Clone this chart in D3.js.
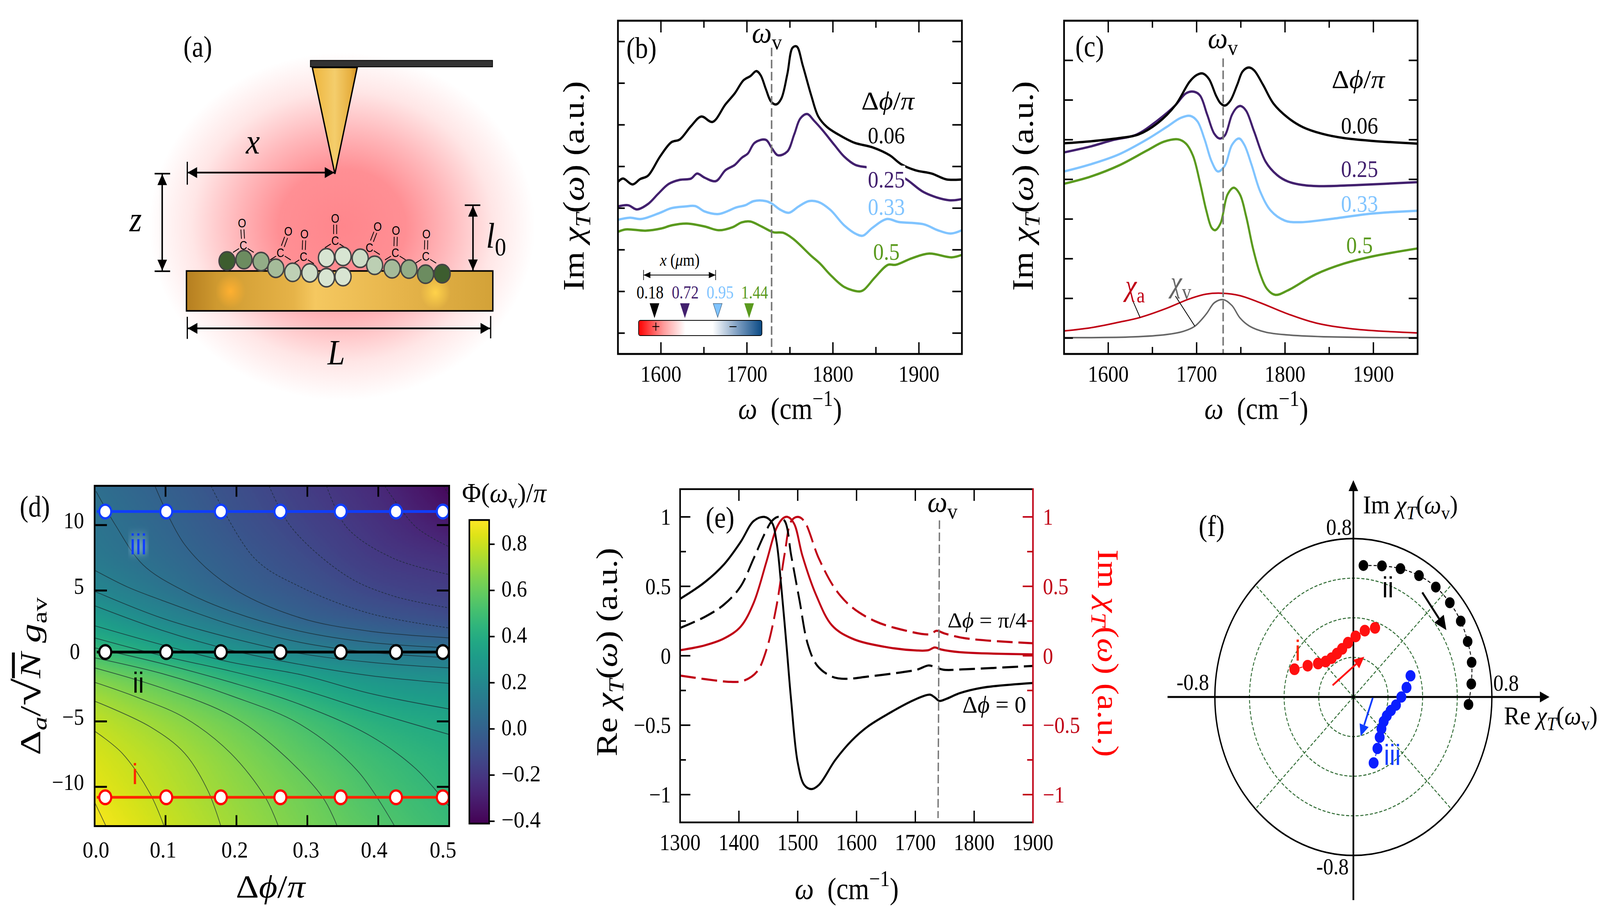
<!DOCTYPE html>
<html>
<head>
<meta charset="utf-8">
<script src="https://cdn.jsdelivr.net/npm/d3@7"></script>
<style>
  html, body { margin: 0; background: #fff; overflow: hidden; }
  text { white-space: pre; }
</style>
</head>
<body>
<div id="wrapper"></div>
<script>
// ---- data ----
// (b) measured spectra, [omega, value in tick units]
const bBlack = [[1550,3.63],[1556,3.71],[1567,3.57],[1576,3.70],[1585,3.78],[1599,4.24],[1612,4.58],[1622,4.65],[1635,4.97],[1647,5.20],[1660,5.07],[1675,5.49],[1686,5.76],[1696,6.07],[1704,6.17],[1711,6.29],[1716,6.19],[1722,5.86],[1728,5.56],[1734,5.49],[1740,5.63],[1747,6.22],[1753,6.85],[1758,6.88],[1765,6.42],[1775,5.69],[1783,5.20],[1793,4.95],[1807,4.76],[1825,4.57],[1846,4.46],[1866,4.27],[1879,4.06],[1896,3.91],[1915,3.83],[1932,3.69],[1950,3.69]];
const bPurple = [[1550,3.04],[1562,3.07],[1572,2.97],[1585,3.10],[1597,3.35],[1609,3.58],[1622,3.68],[1635,3.71],[1642,3.83],[1651,3.73],[1664,3.65],[1675,3.91],[1686,4.04],[1694,4.21],[1701,4.31],[1709,4.57],[1722,4.64],[1729,4.44],[1736,4.27],[1747,4.36],[1755,4.77],[1762,5.15],[1770,5.26],[1778,5.10],[1788,4.87],[1802,4.51],[1813,4.24],[1826,4.04],[1840,3.98],[1862,3.90],[1884,3.71],[1906,3.38],[1935,3.19],[1950,3.22]];
const bBlue = [[1550,2.72],[1564,2.77],[1577,2.74],[1599,2.89],[1612,3.00],[1628,3.04],[1640,3.05],[1651,2.92],[1667,2.86],[1688,3.02],[1698,3.07],[1708,3.17],[1722,3.17],[1729,3.11],[1739,2.96],[1749,2.89],[1760,3.04],[1772,3.17],[1783,3.15],[1797,2.96],[1813,2.59],[1828,2.37],[1835,2.34],[1846,2.53],[1863,2.74],[1876,2.67],[1906,2.61],[1922,2.47],[1937,2.39],[1950,2.47]];
const bGreen = [[1550,2.43],[1559,2.49],[1582,2.46],[1600,2.51],[1613,2.59],[1630,2.63],[1651,2.56],[1667,2.47],[1683,2.54],[1694,2.66],[1704,2.68],[1717,2.56],[1731,2.42],[1742,2.41],[1754,2.26],[1774,1.87],[1785,1.67],[1797,1.40],[1813,1.11],[1831,1.00],[1836,1.04],[1849,1.34],[1864,1.64],[1873,1.64],[1892,1.80],[1912,1.91],[1938,1.82],[1950,1.88]];
const bPhase = ["0.06","0.25","0.33","0.5"];
const bPositions = ["0.18","0.72","0.95","1.44"];

// (c) model spectra
const cBlack = [[1550,4.91],[1580,4.96],[1612,5.04],[1634,5.13],[1656,5.42],[1676,5.87],[1692,6.46],[1700,6.63],[1707,6.67],[1714,6.53],[1722,6.11],[1727,5.92],[1732,5.86],[1738,5.98],[1746,6.39],[1752,6.72],[1759,6.82],[1765,6.75],[1775,6.39],[1787,5.91],[1803,5.56],[1820,5.32],[1842,5.15],[1867,5.04],[1899,4.97],[1950,4.90]];
const cPurple = [[1550,4.68],[1580,4.83],[1605,4.99],[1632,5.13],[1656,5.49],[1676,5.87],[1688,6.17],[1697,6.21],[1704,6.11],[1712,5.63],[1720,5.15],[1726,5.03],[1732,5.11],[1740,5.63],[1746,5.82],[1750,5.85],[1756,5.73],[1765,5.21],[1778,4.45],[1791,4.11],[1803,3.95],[1820,3.86],[1842,3.83],[1883,3.86],[1950,3.93]];
const cBlue = [[1550,4.20],[1580,4.38],[1612,4.63],[1644,5.01],[1666,5.32],[1682,5.55],[1693,5.60],[1701,5.46],[1709,5.01],[1717,4.45],[1724,4.20],[1732,4.35],[1740,4.87],[1748,5.03],[1754,4.87],[1762,4.38],[1772,3.69],[1784,3.21],[1800,2.96],[1816,2.92],[1851,3.00],[1899,3.14],[1950,3.21]];
const cGreen = [[1550,3.89],[1580,4.07],[1612,4.35],[1644,4.73],[1663,4.95],[1679,5.01],[1688,4.90],[1696,4.59],[1704,3.90],[1711,3.21],[1717,2.78],[1721,2.72],[1727,2.89],[1735,3.62],[1742,3.79],[1749,3.62],[1756,3.07],[1764,2.24],[1772,1.61],[1780,1.23],[1789,1.09],[1803,1.20],[1835,1.61],[1867,1.88],[1899,2.06],[1950,2.26]];
const cChiA = [[1550,0.18],[1580,0.26],[1612,0.40],[1636,0.52],[1666,0.75],[1692,0.99],[1711,1.11],[1730,1.13],[1749,1.07],[1772,0.89],[1803,0.61],[1835,0.38],[1877,0.23],[1950,0.13]];
const cChiV = [[1550,0.01],[1628,0.03],[1666,0.09],[1685,0.17],[1698,0.30],[1711,0.61],[1720,0.89],[1730,0.97],[1740,0.82],[1749,0.51],[1760,0.30],[1778,0.15],[1803,0.08],[1851,0.03],[1950,0.01]];

// (d) phase map Phi(omega_v)/pi, one row per detuning, one column per phase difference
const dPhiGrid = [0, 0.1, 0.2, 0.3, 0.4, 0.5];
const dDetGrid = [13, 10, 7.5, 5, 3, 1.5, 0, -1.5, -3, -5, -7.5, -10, -13];
const dMap = [
  [0.063,-0.013,-0.096,-0.177,-0.259,-0.385],
  [0.095, 0.017,-0.069,-0.146,-0.222,-0.313],
  [0.123, 0.047,-0.035,-0.111,-0.185,-0.227],
  [0.198, 0.101, 0.005,-0.064,-0.131,-0.167],
  [0.303, 0.191, 0.088,-0.005,-0.059,-0.103],
  [0.391, 0.290, 0.185, 0.091, 0.027,-0.010],
  [0.520, 0.397, 0.293, 0.210, 0.153, 0.120],
  [0.636, 0.537, 0.418, 0.329, 0.262, 0.233],
  [0.712, 0.619, 0.520, 0.416, 0.333, 0.297],
  [0.778, 0.693, 0.603, 0.507, 0.419, 0.367],
  [0.822, 0.745, 0.657, 0.565, 0.481, 0.419],
  [0.852, 0.770, 0.686, 0.605, 0.517, 0.448],
  [0.893, 0.800, 0.715, 0.633, 0.553, 0.480]
];
const dContoursSolid = [
  [[0,-11.17],[0.016,-13]],
  [[0,-5.74],[0.039,-7.44],[0.078,-10.49],[0.098,-13]],
  [[0,-3.45],[0.078,-5.4],[0.127,-7.44],[0.16,-10.32],[0.178,-13]],
  [[0,-2.01],[0.062,-3.2],[0.127,-4.72],[0.192,-7.44],[0.241,-10.83],[0.259,-13]],
  [[0,-0.91],[0.094,-2.43],[0.192,-4.55],[0.257,-7.1],[0.322,-10.83],[0.342,-13]],
  [[0,-0.14],[0.094,-1.33],[0.192,-3.03],[0.29,-5.23],[0.371,-8.79],[0.423,-13]],
  [[0,0.62],[0.094,-0.57],[0.192,-2.01],[0.29,-3.71],[0.388,-6.08],[0.453,-8.62],[0.5,-11.51]],
  [[0,1.38],[0.094,0.03],[0.192,-1.16],[0.29,-2.52],[0.388,-4.21],[0.5,-6.0]],
  [[0,2.31],[0.094,0.87],[0.192,-0.48],[0.29,-1.42],[0.388,-2.86],[0.5,-4.05]],
  [[0,3.84],[0.094,1.98],[0.192,0.45],[0.29,-0.65],[0.388,-1.5],[0.5,-2.1]],
  [[0,4.94],[0.094,2.91],[0.192,1.38],[0.29,0.19],[0.388,-0.48],[0.5,-0.91]],
  [[0,6.55],[0.046,5.28],[0.094,4.27],[0.192,2.4],[0.29,1.04],[0.388,0.28],[0.5,-0.14]],
  [[0.002,12.58],[0.029,10.03],[0.068,6.98],[0.127,4.94],[0.192,3.42],[0.29,1.89],[0.388,1.04],[0.5,0.62]],
  [[0.085,13],[0.127,8.51],[0.192,5.28],[0.29,2.91],[0.388,1.89],[0.5,1.38]]
];
const dContoursDashed = [
  [[0.164,13],[0.225,7.49],[0.29,5.28],[0.388,3.25],[0.5,2.14]],
  [[0.246,13],[0.277,9.86],[0.355,6.13],[0.42,4.6],[0.5,3.67]],
  [[0.327,13],[0.355,9.86],[0.42,7.49],[0.5,6.22]],
  [[0.409,13],[0.453,9.86],[0.5,8.34]],
  [[0.492,13],[0.5,12.24]]
];
const dPhases = [0.015, 0.101, 0.178, 0.262, 0.347, 0.425, 0.491];
const dDetI = -10.8, dDetII = 0.3, dDetIII = 11.04;
const dXTickLabels = ["0.0","0.1","0.2","0.3","0.4","0.5"];
const dYTicks = [10, 5, 0, -5, -10];
const cbTicks = [0.8, 0.6, 0.4, 0.2, 0, -0.2, -0.4];
const cbTickLabels = ["0.8","0.6","0.4","0.2","0.0","−0.2","−0.4"];

// (e) spectra at two phase differences
const eReSolid = [[1300,0.41],[1342,0.53],[1375,0.66],[1403,0.82],[1425,0.97],[1443,1.0],[1456,0.96],[1464,0.82],[1472,0.50],[1481,0.07],[1489,-0.33],[1500,-0.77],[1511,-0.93],[1523,-0.96],[1536,-0.93],[1564,-0.75],[1592,-0.61],[1619,-0.51],[1653,-0.42],[1692,-0.33],[1714,-0.29],[1725,-0.28],[1733,-0.30],[1741,-0.325],[1753,-0.31],[1775,-0.27],[1814,-0.23],[1900,-0.196]];
const eReDash = [[1300,0.20],[1342,0.28],[1375,0.37],[1403,0.50],[1425,0.70],[1444,0.88],[1456,0.97],[1467,1.0],[1478,0.97],[1489,0.72],[1503,0.40],[1517,0.085],[1533,-0.07],[1558,-0.15],[1581,-0.166],[1619,-0.15],[1675,-0.12],[1703,-0.10],[1722,-0.07],[1733,-0.08],[1747,-0.10],[1786,-0.097],[1900,-0.073]];
const eImSolid = [[1300,0.04],[1342,0.075],[1375,0.125],[1403,0.21],[1425,0.38],[1447,0.68],[1464,0.92],[1475,0.99],[1483,1.0],[1494,0.95],[1508,0.72],[1531,0.44],[1558,0.22],[1592,0.125],[1647,0.065],[1703,0.038],[1722,0.04],[1733,0.06],[1744,0.045],[1775,0.026],[1900,0.01]];
const eImDash = [[1300,-0.143],[1342,-0.168],[1386,-0.188],[1408,-0.18],[1431,-0.113],[1447,0.046],[1464,0.36],[1478,0.74],[1489,0.97],[1500,1.0],[1511,0.97],[1536,0.70],[1564,0.48],[1592,0.35],[1631,0.25],[1675,0.19],[1725,0.155],[1736,0.18],[1750,0.16],[1786,0.125],[1900,0.09]];
const eXTicks = [1300,1400,1500,1600,1700,1800,1900];
const eYTicks = [1, 0.5, 0, -0.5, -1];
const eYTickLabels = ["1","0.5","0","−0.5","−1"];

// (f) complex plane trajectories [Re, Im]
const fI = [[-0.340,0.140],[-0.264,0.158],[-0.204,0.169],[-0.160,0.179],[-0.126,0.196],[-0.095,0.219],[-0.065,0.243],[-0.031,0.274],[0.013,0.306],[0.066,0.335],[0.125,0.349]];
const fII = [[0.058,0.664],[0.165,0.662],[0.272,0.648],[0.379,0.613],[0.476,0.555],[0.557,0.476],[0.620,0.383],[0.660,0.280],[0.683,0.175],[0.681,0.066],[0.665,-0.038]];
const fIII = [[0.330,0.107],[0.307,0.048],[0.277,0],[0.246,-0.041],[0.217,-0.068],[0.193,-0.095],[0.175,-0.124],[0.162,-0.160],[0.152,-0.203],[0.139,-0.260],[0.117,-0.333]];
const fRings = [0.2, 0.4, 0.6];

const black = "#000", purple = "#42206e", lightBlue = "#80c4ff", green = "#5a9a1e";
const darkRed = "#c00015", greyDash = "#777";
const serif = "'Liberation Serif', serif", sans = "'Liberation Sans', sans-serif";

// the browser window can come out narrower than asked, so the figure fills whatever it gets
const svg = d3.select("#wrapper").append("svg")
  .attr("viewBox", "0 0 4684 2319")
  .attr("preserveAspectRatio", "none")
  .style("width", "100vw").style("height", "100vh")
  .style("display", "block");
svg.append("rect").attr("width", 4684).attr("height", 2319).attr("fill", "#fff");
const defs = svg.append("defs");

// text with italics, sub and superscripts. parts: "plain" or [string, flags]
function label(x, y, parts, o = {}) {
  const size = o.size || 60;
  const t = svg.append("text")
    .attr("font-family", o.family || serif)
    .attr("font-size", size)
    .attr("fill", o.fill || "#000")
    .attr("text-anchor", o.anchor || "middle");
  let shift = 0;
  [].concat(typeof parts === "string" ? [parts] : parts).forEach(p => {
    const s = Array.isArray(p) ? p[0] : p;
    const f = (Array.isArray(p) && p[1]) || "";
    const target = f.includes("_") ? 0.22 * size : f.includes("^") ? -0.42 * size : 0;
    const span = t.append("tspan").text(s).attr("dy", target - shift);
    shift = target;
    if (f.includes("_") || f.includes("^")) span.attr("font-size", size * 0.72);
    if (f.includes("L")) span.attr("font-size", size * 1.3);
    if (f.includes("i")) span.attr("font-style", "italic");
    if (f.includes("o")) span.attr("text-decoration", "overline");
  });
  const sx = o.w ? o.w / t.node().getComputedTextLength() : 1;
  t.attr("transform", `translate(${x},${y}) rotate(${o.rot || 0}) scale(${sx},1)`);
  return t;
}

function hline(x1, x2, y, color, w) {
  svg.append("line").attr("x1", x1).attr("x2", x2).attr("y1", y).attr("y2", y)
    .attr("stroke", color).attr("stroke-width", w);
}
function vline(x, y1, y2, color, w) {
  svg.append("line").attr("x1", x).attr("x2", x).attr("y1", y1).attr("y2", y2)
    .attr("stroke", color).attr("stroke-width", w);
}

function arrow(x1, y1, x2, y2, color, w, len, half) {
  const a = Math.atan2(y2 - y1, x2 - x1);
  const bx = x2 - len * Math.cos(a), by = y2 - len * Math.sin(a);
  svg.append("line").attr("x1", x1).attr("y1", y1).attr("x2", bx).attr("y2", by)
    .attr("stroke", color).attr("stroke-width", w);
  const nx = -Math.sin(a) * half, ny = Math.cos(a) * half;
  svg.append("path")
    .attr("d", `M${x2},${y2}L${bx + nx},${by + ny}L${bx - nx},${by - ny}Z`)
    .attr("fill", color);
}

function curve(x, y, pts, color, w, dash) {
  const line = d3.line().x(d => x(d[0])).y(d => y(d[1])).curve(d3.curveCatmullRom.alpha(0.5));
  return svg.append("path").attr("d", line(pts)).attr("fill", "none")
    .attr("stroke", color).attr("stroke-width", w)
    .attr("stroke-dasharray", dash || null);
}

function spectrumAxes(x, y, yTicks, lenL, lenR) {
  const [x0, x1] = x.range(), [y0, y1] = y.range();
  d3.range(1600, 1950, 50).forEach(v => {
    const len = v % 100 === 0 ? 30 : 18;
    vline(x(v), y0, y0 - len, black, 4);
    vline(x(v), y1, y1 + len, black, 4);
  });
  yTicks.forEach(v => {
    hline(x0, x0 + lenL, y(v), black, 4);
    hline(x1, x1 - lenR, y(v), black, 4);
  });
  svg.append("rect").attr("x", x0).attr("y", y1).attr("width", x1 - x0).attr("height", y0 - y1)
    .attr("fill", "none").attr("stroke", black).attr("stroke-width", 5);
  [1600, 1700, 1800, 1900].forEach(v => label(x(v), 977, String(v), { size: 60 }));
}

const chiLabel = [["Im "], ["χ", "i"], ["T", "_i"], ["("], ["ω", "i"], [") (a.u.)"]];
const cmLabel = [["ω", "i"], ["  (cm"], ["−1", "^"], [")"]];
const phaseLabel = [["Δ"], ["ϕ", "i"], ["/"], ["π", "i"]];
const omegaV = [["ω", "i"], ["v", "_"]];

// ---- (a) schematic, drawn in its own sketch coordinates ----
const ax = d3.scaleLinear([0, 1568], [400, 1650]);
const ay = d3.scaleLinear([0, 1565], [0, 1080]);

const glow = defs.append("radialGradient").attr("id", "glow");
[[0,"#ff868c"],[0.33,"#ff8f94"],[0.55,"#ffb8bb"],[0.78,"#ffe6e6"],[1,"#ffffff"]].forEach(s =>
  glow.append("stop").attr("offset", s[0]).attr("stop-color", s[1]));
svg.append("ellipse").attr("cx", ax(755)).attr("cy", ay(840))
  .attr("rx", 565).attr("ry", 445).attr("fill", "url(#glow)");

const tipGrad = defs.append("linearGradient").attr("id", "tipGrad");
[[0,"#eeb53c"],[0.5,"#f4cd6c"],[0.85,"#e7b040"],[1,"#d08f22"]].forEach(s =>
  tipGrad.append("stop").attr("offset", s[0]).attr("stop-color", s[1]));
const goldGrad = defs.append("linearGradient").attr("id", "goldGrad");
[[0,"#b57e20"],[0.1,"#cf9a30"],[0.35,"#e6b348"],[0.42,"#f5c860"],[0.7,"#e6b44a"],[1,"#d3a238"]].forEach(s =>
  goldGrad.append("stop").attr("offset", s[0]).attr("stop-color", s[1]));

svg.append("path")
  .attr("d", `M${ax(645)},${ay(250)}L${ax(810)},${ay(250)}L${ax(728)},${ay(645)}Z`)
  .attr("fill", "url(#tipGrad)").attr("stroke", black).attr("stroke-width", 4);
svg.append("rect").attr("x", ax(638)).attr("y", ay(224)).attr("width", ax(1307) - ax(638)).attr("height", ay(248) - ay(224))
  .attr("fill", "#333").attr("stroke", black).attr("stroke-width", 2);

svg.append("rect").attr("x", ax(183)).attr("y", ay(1005)).attr("width", ax(1308) - ax(183)).attr("height", ay(1153) - ay(1005))
  .attr("fill", "url(#goldGrad)").attr("stroke", black).attr("stroke-width", 4);
[[345, 1080, "#ffb030"], [1097, 1085, "#ffd24a"]].forEach((h, i) => {
  const g = defs.append("radialGradient").attr("id", "hot" + i);
  g.append("stop").attr("offset", 0).attr("stop-color", h[2]).attr("stop-opacity", 1);
  g.append("stop").attr("offset", 1).attr("stop-color", h[2]).attr("stop-opacity", 0);
  svg.append("circle").attr("cx", ax(h[0])).attr("cy", ay(h[1])).attr("r", 44).attr("fill", `url(#hot${i})`);
});

const carbonyls = [[392,910,387,828],[528,938,557,858],[613,952,616,868],[729,893,729,810],[855,918,885,840],[950,938,952,855],[1062,950,1064,868]];
carbonyls.forEach(c => {
  const [cx, cy, ox, oy] = c;
  const a = Math.atan2(oy - cy, ox - cx), nx = -Math.sin(a) * 4.5, ny = Math.cos(a) * 4.5;
  const dx = ax(ox) - ax(cx), dy = ay(oy) - ay(cy);
  [-1, 1].forEach(s => svg.append("line")
    .attr("x1", ax(cx) + dx * 0.3 + s * nx).attr("y1", ay(cy) + dy * 0.3 + s * ny)
    .attr("x2", ax(cx) + dx * 0.72 + s * nx).attr("y2", ay(cy) + dy * 0.72 + s * ny)
    .attr("stroke", black).attr("stroke-width", 2.2));
  [-1, 1].forEach(s => svg.append("line")
    .attr("x1", ax(cx + s * 16)).attr("y1", ay(cy + 12))
    .attr("x2", ax(cx + s * 38)).attr("y2", ay(cy + 26))
    .attr("stroke", black).attr("stroke-width", 2.2));
  label(ax(cx), ay(cy) + 11, "C", { size: 31, family: sans });
  label(ax(ox), ay(oy) + 11, "O", { size: 31, family: sans });
});

const beads = [[332,968,"#3d5d2f"],[394,963,"#6c8c60"],[457,970,"#93ad87"],[511,995,"#a5bc9a"],[573,1010,"#bed0b5"],[636,1012,"#cfdec8"],[697,956,"#d8e5d2"],[758,951,"#d8e5d2"],[697,1030,"#d8e5d2"],[758,1026,"#d8e5d2"],[821,958,"#cddcc6"],[874,984,"#bccfb3"],[938,997,"#a5bb9a"],[1000,998,"#93ad87"],[1061,1017,"#6c8c60"],[1122,1015,"#3d5d2f"]];
beads.forEach(b => svg.append("circle").attr("cx", ax(b[0])).attr("cy", ay(b[1])).attr("r", 23.5)
  .attr("fill", b[2]).attr("stroke", "#444").attr("stroke-width", 4));

// dimension arrows
function dimension(x1, y1, x2, y2) {
  arrow(x1, y1, x2, y2, black, 4, 28, 14);
  arrow(x2, y2, x1, y1, black, 4, 28, 14);
}
dimension(ax(187), ay(640), ax(726), ay(640));
vline(ax(186), ay(600), ay(685), black, 3.5);
dimension(ax(94), ay(646), ax(94), ay(1004));
hline(ax(66), ax(123), ay(644), black, 4);
hline(ax(66), ax(123), ay(1006), black, 4);
dimension(ax(1235), ay(763), ax(1235), ay(1003));
hline(ax(1205), ax(1262), ay(761), black, 4);
dimension(ax(188), ay(1218), ax(1298), ay(1218));
vline(ax(186), ay(1175), ay(1257), black, 3.5);
vline(ax(1300), ay(1172), ay(1255), black, 3.5);

label(579, 145, "(a)", { size: 76 });
label(ax(427), ay(570), [["x", "i"]], { size: 92 });
label(397, 592, [["z", "i"]], { size: 92 });
label(ax(1320), ay(918), [["l", "i"], ["0", "_"]], { size: 92 });
label(ax(733), ay(1352), [["L", "i"]], { size: 92 });

// ---- (b) ----
const bX = d3.scaleLinear([1550, 1950], [1809, 2816]);
const bY = d3.scaleLinear([-0.5, 7.5], [906, 53]);
curve(bX, bY, bGreen, green, 6);
curve(bX, bY, bBlue, lightBlue, 6);
curve(bX, bY, bPurple, purple, 6);
curve(bX, bY, bBlack, black, 6);
svg.append("line").attr("x1", bX(1728.7)).attr("x2", bX(1728.7)).attr("y1", 122).attr("y2", 906)
  .attr("stroke", greyDash).attr("stroke-width", 4.5).attr("stroke-dasharray", "22,9");
spectrumAxes(bX, bY, d3.range(0, 8), 20, 28);
// the 0.25 label sits in a white patch in the original
svg.append("rect").attr("x", 2537).attr("y", 424).attr("width", 113).attr("height", 62).attr("fill", "#fff");
label(1878, 148, "(b)", { size: 76 });
label(2245, 109, omegaV, { size: 76, w: 88 });
label(2313, 1072, cmLabel, { size: 78, w: 304 });
label(1708, 476, chiLabel, { size: 88, rot: -90, w: 537 });
label(2599, 280, phaseLabel, { size: 66, w: 155 });
[367, 480, 550, 665].forEach((yy, i) =>
  label(2595, yy, bPhase[i], { size: 62, fill: [black, purple, lightBlue, green][i] }));

// position legend inset
const cbar = defs.append("linearGradient").attr("id", "tipBar");
[[0,"#ff0000"],[0.2,"#ff9a9a"],[0.38,"#ffffff"],[0.6,"#ffffff"],[0.8,"#7f9fc2"],[1,"#0a4a85"]].forEach(s =>
  cbar.append("stop").attr("offset", s[0]).attr("stop-color", s[1]));
svg.append("rect").attr("x", 1869.5).attr("y", 820).attr("width", 361).attr("height", 39).attr("rx", 5)
  .attr("fill", "url(#tipBar)").attr("stroke", black).attr("stroke-width", 2);
label(1920, 851, "+", { size: 44 });
label(2146, 851, "−", { size: 44 });
[1916, 2005, 2101, 2193].forEach((xx, i) => {
  const c = [black, purple, lightBlue, green][i];
  svg.append("path").attr("d", `M${xx - 13},777L${xx + 13},777L${xx},812Z`)
    .attr("fill", c).attr("stroke", i === 2 ? "#4a6a88" : c).attr("stroke-width", 1.5);
  label([1903, 2006, 2108, 2209][i], 764, bPositions[i], { size: 46, fill: c, w: 79 });
});
label(1990, 680, [["x", "i"], [" ("], ["μ", "i"], ["m)"]], { size: 44 });
dimension2(1884, 2095, 704);
function dimension2(x1, x2, y) {
  arrow(x1, y, x2, y, black, 1.8, 20, 8);
  arrow(x2, y, x1, y, black, 1.8, 20, 8);
  vline(x1, y - 13, y + 13, black, 1.8);
  vline(x2, y - 13, y + 13, black, 1.8);
}

// ---- (c) ----
const cX = d3.scaleLinear([1550, 1950], [3115, 4150]);
const cY = d3.scaleLinear([-0.4, 8.0], [906, 53]);
curve(cX, cY, cChiA, darkRed, 4);
curve(cX, cY, cChiV, "#666", 4);
curve(cX, cY, cGreen, green, 6);
curve(cX, cY, cBlue, lightBlue, 6);
curve(cX, cY, cPurple, purple, 6);
curve(cX, cY, cBlack, black, 6);
svg.append("line").attr("x1", cX(1730)).attr("x2", cX(1730)).attr("y1", cY(7.05)).attr("y2", 906)
  .attr("stroke", greyDash).attr("stroke-width", 4.5).attr("stroke-dasharray", "22,9");
spectrumAxes(cX, cY, d3.range(0, 8), 26, 26);
// leaders from chi labels to their curves
[[1628, 0.93, 1636, 0.52], [1676, 1.06, 1698, 0.30]].forEach(l => {
  svg.append("line").attr("x1", cX(l[0])).attr("y1", cY(l[1])).attr("x2", cX(l[2])).attr("y2", cY(l[3]))
    .attr("stroke", black).attr("stroke-width", 2.2);
});
label(3190, 144, "(c)", { size: 76 });
label(3580, 123, omegaV, { size: 76, w: 88 });
label(3678, 1072, cmLabel, { size: 78, w: 304 });
label(3024, 476, chiLabel, { size: 88, rot: -90, w: 537 });
label(3976, 225, phaseLabel, { size: 66, w: 155 });
[342, 453, 542, 648].forEach((yy, i) =>
  label(3980, yy, bPhase[i], { size: 62, fill: [black, purple, lightBlue, green][i] }));
label(3323, 757, [["χ", "i"], ["a", "_"]], { size: 76, fill: darkRed });
label(3457, 748, [["χ", "i"], ["v", "_"]], { size: 76, fill: "#666" });

// ---- (d) ----
const dX = d3.scaleLinear([0, 0.5], [277, 1315]);
const dY = d3.scaleLinear([-13, 13], [2114.5, 1243.5]);
const viridis = d3.scaleSequential(d3.interpolateViridis).domain([-0.41, 0.905]);

// cubic resampling of the read grid, only to smooth the display
function hermite(xs, ys, x) {
  const dir = xs[1] > xs[0] ? 1 : -1;
  let i = 0;
  while (i < xs.length - 2 && dir * x > dir * xs[i + 1]) i++;
  const slope = k => {
    const a = Math.max(k - 1, 0), b = Math.min(k + 1, xs.length - 1);
    return (ys[b] - ys[a]) / (xs[b] - xs[a]);
  };
  const h = xs[i + 1] - xs[i], t = (x - xs[i]) / h;
  return (2*t*t*t - 3*t*t + 1) * ys[i] + (t*t*t - 2*t*t + t) * h * slope(i)
       + (-2*t*t*t + 3*t*t) * ys[i + 1] + (t*t*t - t*t) * h * slope(i + 1);
}
const nx = 260, ny = 218;
const fine = new Float64Array(nx * ny);
for (let j = 0; j < ny; j++) {
  const det = 13 - 26 * j / (ny - 1);
  const row = dPhiGrid.map((_, c) => hermite(dDetGrid, dMap.map(r => r[c]), det));
  for (let i = 0; i < nx; i++) fine[j * nx + i] = hermite(dPhiGrid, row, 0.5 * i / (nx - 1));
}
const cv = document.createElement("canvas");
cv.width = nx; cv.height = ny;
const ctx = cv.getContext("2d");
const img = ctx.createImageData(nx, ny);
fine.forEach((v, k) => {
  const c = d3.rgb(viridis(v));
  img.data.set([c.r, c.g, c.b, 255], k * 4);
});
ctx.putImageData(img, 0, 0);
svg.append("image").attr("href", cv.toDataURL())
  .attr("x", 277).attr("y", 1243.5).attr("width", 1038).attr("height", 871)
  .attr("preserveAspectRatio", "none");

dContoursSolid.forEach(c => curve(dX, dY, c, "#1a2a30", 2).attr("stroke-opacity", 0.7));
dContoursDashed.forEach(c => curve(dX, dY, c, "#1a2a30", 2, "6,4").attr("stroke-opacity", 0.7));

[0.1, 0.2, 0.3, 0.4].forEach(v => {
  vline(dX(v), 2114.5, 2114.5 - 28, black, 5);
  vline(dX(v), 1243.5, 1243.5 + 28, black, 5);
});
[10, 5, -5, -10].forEach(v => {
  hline(277, 277 + 36, dY(v), black, 5);
  hline(1315, 1315 - 36, dY(v), black, 5);
});

[[dDetIII, "#0f3dff", "#0f3dff"], [dDetII, black, black], [dDetI, "#ff2600", "#ff0000"]].forEach(r => {
  hline(dX(0.003), dX(0.497), dY(r[0]), r[1], 7);
  svg.selectAll(null).data(dPhases).join("circle")
    .attr("cx", d => dX(d)).attr("cy", dY(r[0])).attr("r", 17.5)
    .attr("fill", "#fff").attr("stroke", r[2]).attr("stroke-width", 6);
});
svg.append("rect").attr("x", 277).attr("y", 1243.5).attr("width", 1038).attr("height", 871)
  .attr("fill", "none").attr("stroke", black).attr("stroke-width", 5);

defs.append("filter").attr("id", "soft").append("feGaussianBlur").attr("stdDeviation", 9);
label(405, 1419, "iii", { size: 74, family: sans, fill: "#bfe0f0" }).attr("filter", "url(#soft)");
label(405, 1419, "iii", { size: 74, family: sans, fill: "#0f3dff" });
label(405, 1773, "ii", { size: 74, family: sans });
label(395, 2007, "i", { size: 74, family: sans, fill: "#ff2600" });
label(102, 1322, "(d)", { size: 76 });

[4, -7, -5, -4, -12, -18].forEach((shift, i) =>
  label(dX(i * 0.1) + shift, 2195, dXTickLabels[i], { size: 60, w: 78 }));
dYTicks.forEach(v =>
  label(v === 0 ? 234 : 246, dY(v) + 8, v < 0 ? "−" + Math.abs(v) : String(v), { size: 60, anchor: "end" }));
label(792, 2297, phaseLabel, { size: 82, w: 203 });
label(118, 1731, [["Δ"], ["a", "_i"], ["/"], ["√", "L"], ["N", "io"], [" "], ["g", "i"], ["av", "_"]], { size: 84, rot: -90, w: 404 });

// colorbar
const cbY = d3.scaleLinear([-0.41, 0.905], [2108, 1331]);
const cbGrad = defs.append("linearGradient").attr("id", "cbGrad")
  .attr("x1", 0).attr("y1", 1).attr("x2", 0).attr("y2", 0);
d3.range(0, 1.001, 0.05).forEach(t => cbGrad.append("stop").attr("offset", t)
  .attr("stop-color", d3.interpolateViridis(t)));
svg.append("rect").attr("x", 1374).attr("y", 1331).attr("width", 58).attr("height", 777)
  .attr("fill", "url(#cbGrad)").attr("stroke", black).attr("stroke-width", 4.5);
cbTicks.forEach((v, i) => {
  hline(1432, 1448, cbY(v), black, 4);
  label(1468, cbY(v) + 16, cbTickLabels[i], { size: 60, anchor: "start", w: i > 4 ? 115 : 75 });
});
label(1476, 1285, [["Φ"], ["("], ["ω", "i"], ["v", "_"], [")/"], ["π", "i"]], { size: 70, w: 247 });

// ---- (e) ----
const eX = d3.scaleLinear([1300, 1900], [1991, 3024]);
const eY = d3.scaleLinear([-1.2, 1.2], [2105, 1252]);
curve(eX, eY, eImDash, darkRed, 5.5, "46,17");
curve(eX, eY, eReDash, black, 5.5, "46,17");
curve(eX, eY, eImSolid, darkRed, 5.5);
curve(eX, eY, eReSolid, black, 5.5);
svg.append("line").attr("x1", eX(1741)).attr("y1", 1332).attr("x2", eX(1738.6)).attr("y2", 2094)
  .attr("stroke", greyDash).attr("stroke-width", 4).attr("stroke-dasharray", "22,9");
eXTicks.slice(1, -1).forEach(v => {
  vline(eX(v), 2105, 2075, black, 4);
  vline(eX(v), 1252, 1282, black, 4);
});
d3.range(-1, 1.01, 0.25).forEach(v => {
  const major = Math.abs(v * 2 - Math.round(v * 2)) < 1e-6;
  hline(1991, 1991 + (major ? 30 : 17), eY(v), black, 4);
  hline(3024, 3024 - (major ? 30 : 17), eY(v), darkRed, 4);
});
hline(1989, 3026, 1252, black, 4.5);
hline(1989, 3026, 2105, black, 4.5);
vline(1991, 1250, 2107, black, 4.5);
vline(3024, 1250, 2107, darkRed, 4.5);
eXTicks.forEach(v => label(eX(v), 2176, String(v), { size: 60 }));
eYTicks.forEach((v, i) => {
  label(1964, eY(v) + 20, eYTickLabels[i], { size: 60, anchor: "end" });
  label(3053, eY(v) + 20, eYTickLabels[i], { size: 60, anchor: "start", fill: darkRed });
});
label(2108, 1350, "(e)", { size: 76 });
label(2759, 1310, omegaV, { size: 76, w: 88 });
label(2479, 2301, cmLabel, { size: 78, w: 304 });
label(1806, 1669, [["Re "], ["χ", "i"], ["T", "_i"], ["("], ["ω", "i"], [") (a.u.)"]], { size: 88, rot: -90, w: 534 });
label(3215, 1672, chiLabel, { size: 88, rot: 90, w: 531, fill: "#ff0000" });
label(2890, 1606, [["Δ"], ["ϕ", "i"], [" = "], ["π"], ["/4"]], { size: 54, w: 232 });
label(2911, 1824, [["Δ"], ["ϕ", "i"], [" = 0"]], { size: 62, w: 187 });

// ---- (f) ----
const fX = d3.scaleLinear([-0.8, 0.8], [3962 - 405.5, 3962 + 405.5]);
const fY = d3.scaleLinear([-0.8, 0.8], [1784 + 405.5, 1784 - 405.5]);
const fR = d3.scaleLinear([0, 0.8], [0, 405.5]);
const ringGreen = "#2f6b33";
fRings.forEach(r => svg.append("circle").attr("cx", fX(0)).attr("cy", fY(0)).attr("r", fR(r))
  .attr("fill", "none").attr("stroke", ringGreen).attr("stroke-width", 2.6).attr("stroke-dasharray", "9,5"));
[45, 135, 225, 315].forEach(deg => {
  const a = deg * Math.PI / 180;
  svg.append("line").attr("x1", fX(0)).attr("y1", fY(0))
    .attr("x2", fX(0.8 * Math.cos(a))).attr("y2", fY(0.8 * Math.sin(a)))
    .attr("stroke", ringGreen).attr("stroke-width", 2.6).attr("stroke-dasharray", "9,5");
});
svg.append("circle").attr("cx", fX(0)).attr("cy", fY(0)).attr("r", fR(0.8))
  .attr("fill", "none").attr("stroke", black).attr("stroke-width", 4);
arrow(3418, fY(0), 4536, fY(0), black, 5, 28, 14);
arrow(fX(0), 2304, fX(0), 1229, black, 5, 28, 14);

[[fI, "#ff1010", 15], [fII, black, 14], [fIII, "#0a1eff", 14.5]].forEach(s => {
  curve(fX, fY, s[0], s[1], 2.5, "9,6");
  svg.selectAll(null).data(s[0]).join("circle")
    .attr("cx", d => fX(d[0])).attr("cy", d => fY(d[1])).attr("r", s[2]).attr("fill", s[1]);
});
arrow(fX(0.398), fY(0.528), fX(0.537), fY(0.338), black, 5.5, 36, 17);
arrow(fX(-0.120), fY(0.059), fX(0.063), fY(0.203), "#ff1010", 5, 30, 14);
arrow(fX(0.112), fY(-0.004), fX(0.042), fY(-0.198), "#0f3dff", 5, 30, 14);

label(3547, 1372, "(f)", { size: 76 });
label(4129, 1314, [["Im "], ["χ", "i"], ["T", "_i"], ["("], ["ω", "i"], ["v", "_"], [")"]], { size: 66, w: 278 });
label(4540, 1854, [["Re "], ["χ", "i"], ["T", "_i"], ["("], ["ω", "i"], ["v", "_"], [")"]], { size: 66, w: 274 });
label(3920, 1369, "0.8", { size: 60 });
label(3492, 1766, "-0.8", { size: 60 });
label(4409, 1768, "0.8", { size: 60 });
label(3901, 2238, "-0.8", { size: 60 });
label(3799, 1691, "i", { size: 74, family: sans, fill: "#ff2600" });
label(4063, 1529, "ii", { size: 74, family: sans });
label(4076, 1958, "iii", { size: 74, family: sans, fill: "#0f3dff" });
</script>
</body>
</html>
